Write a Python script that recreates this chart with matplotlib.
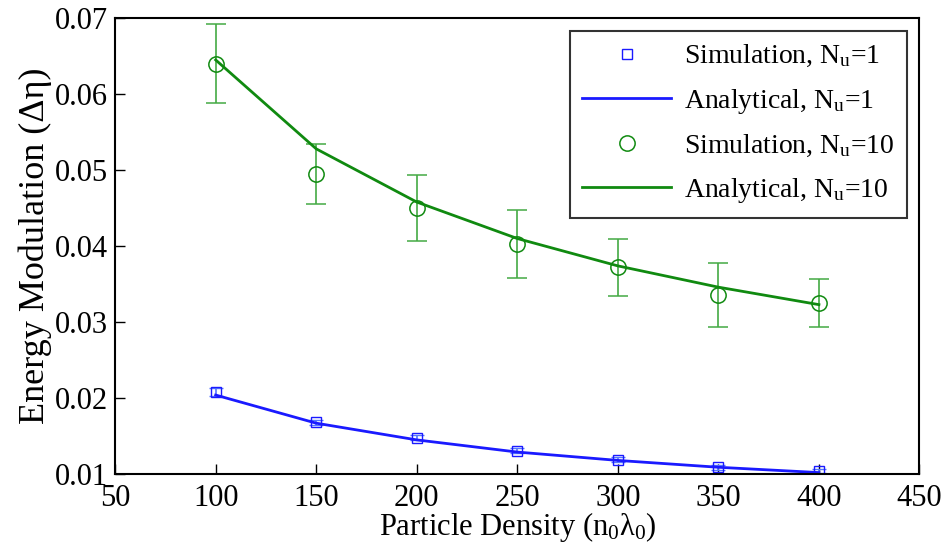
import matplotlib.pyplot as plt
from matplotlib.lines import Line2D
import numpy as np

# Data
density = [100, 150, 200, 250, 300, 350, 400]

sim_nu1 = [0.0208, 0.0168, 0.0148, 0.0131, 0.0119, 0.0109, 0.0104]
err_nu1 = [0.0005, 0.0003, 0.0003, 0.0003, 0.0003, 0.0003, 0.0003]
ana_nu1 = [0.0204, 0.0167, 0.0145, 0.0129, 0.0118, 0.0109, 0.0102]

sim_nu10 = [0.0640, 0.0495, 0.0450, 0.0403, 0.0372, 0.0336, 0.0325]
err_nu10 = [0.0052, 0.0040, 0.0043, 0.0045, 0.0037, 0.0042, 0.0032]
ana_nu10 = [0.0645, 0.0528, 0.0458, 0.0410, 0.0374, 0.0346, 0.0323]

plt.rcParams['font.family'] = ['Liberation Serif', 'DejaVu Serif']
plt.rcParams['mathtext.fontset'] = 'custom'
plt.rcParams['mathtext.rm'] = 'Liberation Serif'
plt.rcParams['mathtext.it'] = 'Liberation Serif:italic'

blue = '#1a1aff'
green = '#108a10'

fig = plt.figure(figsize=(9.44, 5.5), dpi=100)
ax = fig.add_axes([0.122, 0.138, 0.852, 0.829])

# simulation points with error bars
ax.errorbar(density, sim_nu1, yerr=err_nu1, fmt='s', ms=7, mfc='none', mec=blue,
            mew=1.0, ecolor='#5577ff', elinewidth=1.2, capsize=5)
ax.plot(density, ana_nu1, '-', color=blue, lw=2)
ax.errorbar(density, sim_nu10, yerr=err_nu10, fmt='o', ms=11, mfc='none', mec=green,
            mew=1.1, ecolor='#44aa44', elinewidth=1.2, capsize=7)
ax.plot(density, ana_nu10, '-', color=green, lw=2)

ax.set_xlim(50, 450)
ax.set_ylim(0.01, 0.07)
ax.set_xticks(np.arange(50, 451, 50))
ax.set_yticks(np.arange(0.01, 0.0701, 0.01))
ax.set_yticklabels(['0.01', '0.02', '0.03', '0.04', '0.05', '0.06', '0.07'])
ax.tick_params(direction='in', length=7, width=1, labelsize=22)
ax.tick_params(axis='x', pad=7)
ax.tick_params(axis='y', pad=5)
for s in ax.spines.values():
    s.set_linewidth(1.5)

ax.set_xlabel('Particle Density (n$_0$λ$_0$)', fontsize=22, labelpad=-2)
ax.set_ylabel('Energy Modulation (Δη)', fontsize=26, labelpad=2)

handles = [
    Line2D([], [], ls='none', marker='s', ms=7, mfc='none', mec=blue, mew=1.0),
    Line2D([], [], color=blue, lw=2),
    Line2D([], [], ls='none', marker='o', ms=11, mfc='none', mec=green, mew=1.1),
    Line2D([], [], color=green, lw=2),
]
labels = [r'Simulation, N$_\mathrm{u}$=1', r'Analytical, N$_\mathrm{u}$=1',
          r'Simulation, N$_\mathrm{u}$=10', r'Analytical, N$_\mathrm{u}$=10']
leg = ax.legend(handles, labels, loc='upper right', fontsize=20, frameon=True, fancybox=False,
                edgecolor='black', borderaxespad=0.45, handlelength=3.2, labelspacing=0.62,
                borderpad=0.45, handletextpad=0.45)
leg.get_frame().set_linewidth(1.5)

fig.savefig('out.png', dpi=100)
